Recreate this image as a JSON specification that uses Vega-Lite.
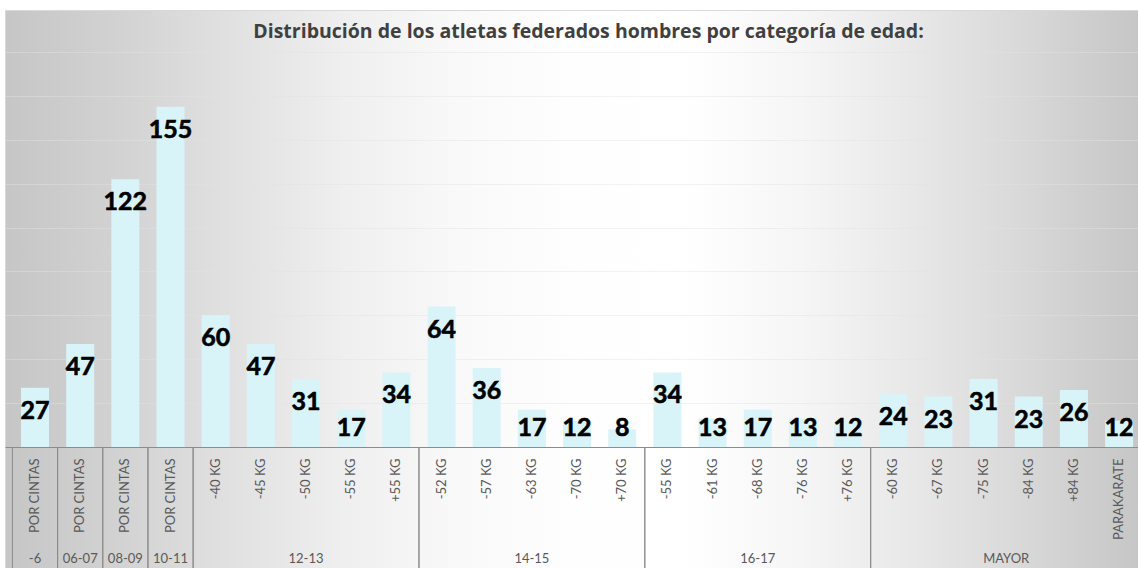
{
  "$schema": "https://vega.github.io/schema/vega-lite/v6.json",
  "width": 1133,
  "height": 558,
  "autosize": {"type": "none"},
  "padding": {"left": 5, "top": 10, "right": 0, "bottom": 0},
  "background": "white",
  "view": {
    "stroke": "#d9d9d9",
    "fill": {
      "gradient": "linear", "x1": 0, "y1": 0, "x2": 1, "y2": 0,
      "stops": [
        {"offset": 0, "color": "#c6c6c6"},
        {"offset": 0.1, "color": "#d2d2d2"},
        {"offset": 0.2, "color": "#e1e1e1"},
        {"offset": 0.3, "color": "#efefef"},
        {"offset": 0.4, "color": "#f9f9f9"},
        {"offset": 0.5, "color": "#fefefe"},
        {"offset": 0.6, "color": "#ffffff"},
        {"offset": 0.7, "color": "#f6f6f6"},
        {"offset": 0.8, "color": "#e8e8e8"},
        {"offset": 0.9, "color": "#d8d8d8"},
        {"offset": 1, "color": "#c6c6c6"}
      ]
    }
  },
  "title": {
    "text": "Distribución de los atletas federados hombres por categoría de edad:",
    "font": "Open Sans", "fontSize": 19.5, "fontWeight": "bold", "color": "#404040",
    "anchor": "middle", "dx": 17, "offset": -32
  },
  "datasets": {
    "atletas": [
      {"grupo": "-6", "sub": "POR CINTAS", "n": 27},
      {"grupo": "06-07", "sub": "POR CINTAS", "n": 47},
      {"grupo": "08-09", "sub": "POR CINTAS", "n": 122},
      {"grupo": "10-11", "sub": "POR CINTAS", "n": 155},
      {"grupo": "12-13", "sub": "-40 KG", "n": 60},
      {"grupo": "12-13", "sub": "-45 KG", "n": 47},
      {"grupo": "12-13", "sub": "-50 KG", "n": 31},
      {"grupo": "12-13", "sub": "-55 KG", "n": 17},
      {"grupo": "12-13", "sub": "+55 KG", "n": 34},
      {"grupo": "14-15", "sub": "-52 KG", "n": 64},
      {"grupo": "14-15", "sub": "-57 KG", "n": 36},
      {"grupo": "14-15", "sub": "-63 KG", "n": 17},
      {"grupo": "14-15", "sub": "-70 KG", "n": 12},
      {"grupo": "14-15", "sub": "+70 KG", "n": 8},
      {"grupo": "16-17", "sub": "-55 KG", "n": 34},
      {"grupo": "16-17", "sub": "-61 KG", "n": 13},
      {"grupo": "16-17", "sub": "-68 KG", "n": 17},
      {"grupo": "16-17", "sub": "-76 KG", "n": 13},
      {"grupo": "16-17", "sub": "+76 KG", "n": 12},
      {"grupo": "MAYOR", "sub": "-60 KG", "n": 24},
      {"grupo": "MAYOR", "sub": "-67 KG", "n": 23},
      {"grupo": "MAYOR", "sub": "-75 KG", "n": 31},
      {"grupo": "MAYOR", "sub": "-84 KG", "n": 23},
      {"grupo": "MAYOR", "sub": "+84 KG", "n": 26},
      {"grupo": "MAYOR", "sub": "PARAKARATE", "n": 12}
    ]
  },
  "resolve": {"scale": {"x": "independent"}},
  "layer": [
    {
      "data": {"name": "atletas"},
      "transform": [
        {"calculate": "datum.grupo + '|' + datum.sub", "as": "key"},
        {"calculate": "max(datum.n - 10.5, 8.7)", "as": "label_y"}
      ],
      "layer": [
        {
          "mark": {"type": "bar", "color": "#d9f4f8"},
          "encoding": {
            "x": {
              "field": "key", "type": "nominal", "sort": null,
              "scale": {"paddingInner": 0.38, "paddingOuter": 0.2316, "align": 0.766},
              "axis": {
                "title": null, "labelAngle": -90, "labelPadding": 11,
                "labelFont": "Lato", "labelFontSize": 13, "labelColor": "#595959",
                "ticks": false, "domainColor": "#8c8c8c", "offset": -121,
                "labelExpr": "split(datum.label, '|')[1]", "grid": false, "labelOverlap": false
              }
            },
            "y": {
              "field": "n", "type": "quantitative",
              "scale": {"domain": [-55.12, 199.14], "nice": false, "zero": false},
              "axis": {
                "values": [20, 40, 60, 80, 100, 120, 140, 160, 180],
                "grid": true, "gridColor": "#e2e2e2", "gridOpacity": 0.45, "labels": false, "ticks": false,
                "domain": false, "title": null
              }
            }
          }
        },
        {
          "mark": {"type": "text", "font": "Lato", "fontSize": 25, "fontWeight": "bold", "color": "#000000", "stroke": "#000000", "strokeWidth": 0.6, "baseline": "middle", "align": "center"},
          "encoding": {
            "x": {"field": "key", "type": "nominal", "sort": null},
            "y": {"field": "label_y", "type": "quantitative"},
            "text": {"field": "n", "type": "quantitative"}
          }
        }
      ]
    },
    {
      "data": {"name": "atletas"},
      "transform": [
        {"window": [{"op": "row_number", "as": "r"}]},
        {"aggregate": [{"op": "min", "field": "r", "as": "rmin"}, {"op": "max", "field": "r", "as": "hi"}], "groupby": ["grupo"]},
        {"calculate": "datum.rmin - 1", "as": "lo"},
        {"calculate": "(datum.lo + datum.hi) / 2", "as": "mid"}
      ],
      "layer": [
        {
          "mark": {"type": "rule", "color": "#8c8c8c", "strokeWidth": 1},
          "encoding": {
            "x": {"field": "lo", "type": "quantitative", "scale": {"domain": [-0.1645, 24.918], "nice": false, "zero": false}, "axis": null},
            "y": {"datum": 0},
            "y2": {"datum": -56}
          }
        },
        {
          "mark": {"type": "rule", "color": "#8c8c8c", "strokeWidth": 1},
          "encoding": {
            "x": {"field": "hi", "type": "quantitative"},
            "y": {"datum": 0},
            "y2": {"datum": -56}
          }
        },
        {
          "mark": {"type": "text", "font": "Lato", "fontSize": 13, "color": "#595959", "baseline": "middle", "align": "center"},
          "encoding": {
            "x": {"field": "mid", "type": "quantitative"},
            "y": {"datum": -51},
            "text": {"field": "grupo", "type": "nominal"}
          }
        }
      ]
    }
  ]
}
